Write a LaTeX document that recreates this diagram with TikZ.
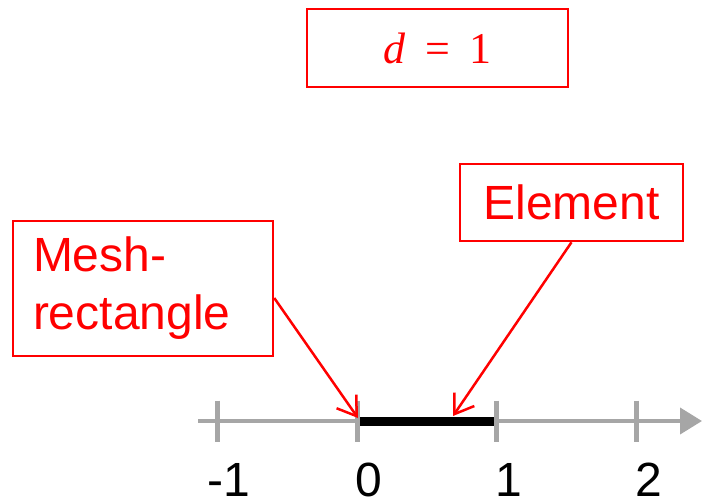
\documentclass[tikz,border=0pt]{standalone}
\usepackage[no-math]{fontspec}
\setmainfont{Liberation Sans}
\newfontfamily\eqnfont{Liberation Serif}
\usetikzlibrary{arrows.meta}
\definecolor{calloutred}{HTML}{FF0000}
\definecolor{axisgray}{HTML}{A6A6A6}

\begin{document}
\begin{tikzpicture}[
  x=1pt,
  y=-1pt,
  every node/.style={font=\fontsize{48}{58}\selectfont},
  callout/.style={draw=calloutred, line width=2.5pt, text=calloutred, inner sep=0pt},
  pointer/.style={calloutred, line width=2.5pt,
                  -{Straight Barb[length=18pt, width=24pt]}},
  axis/.style={axisgray, line width=4pt, -{Triangle[length=22pt, width=26pt]}},
  tick/.style={axisgray, line width=5pt},
  segment/.style={black, line width=9pt}
]
  \useasboundingbox (0,0) rectangle (702,499);

  %% ---- number line -------------------------------------------------------
  \draw[axis] (198,421) -- (702,421);
  \foreach \p/\name in {-1/tickneg, 0/tickzero, 1/tickone, 2/ticktwo}
    \coordinate (\name) at ({357+139.7*\p},421);

  %% the element [0,1], drawn before the ticks so they sit on top
  \draw[segment] (tickzero) -- (tickone);

  \foreach \p/\name in {-1/tickneg, 0/tickzero, 1/tickone, 2/ticktwo}
    \draw[tick] ([yshift=20.5pt]\name) -- ([yshift=-20.5pt]\name);
  \foreach \p/\name in {-1/tickneg, 0/tickzero, 1/tickone, 2/ticktwo}
    \node[anchor=base, inner sep=0pt] (lbl\name) at ({369+139.7*\p},496) {\p};

  %% ---- the three red boxes -----------------------------------------------
  \node[callout, minimum width=261pt, minimum height=78pt,
        font=\eqnfont\fontsize{44}{50}\selectfont] (dbox)
    at (437.5,48) {\textit{d}\hspace{0.45em}=\hspace{0.45em}1};
  \node[callout, minimum width=223pt, minimum height=77pt] (elem)
    at (571.5,202.5) {Element};
  \node[callout, minimum width=260pt, minimum height=135pt,
        inner xsep=20pt, text width=220pt, align=left] (mesh)
    at (143,288.5) {Mesh-\\rectangle};

  %% ---- pointers onto the line --------------------------------------------
  \coordinate (meshtip) at (358,418);
  \coordinate (elemtip) at (453,416);
  \draw[pointer] ([yshift=-9.5pt]mesh.east) -- (meshtip);
  \draw[pointer] (elem.south) -- (elemtip);
\end{tikzpicture}
\end{document}
